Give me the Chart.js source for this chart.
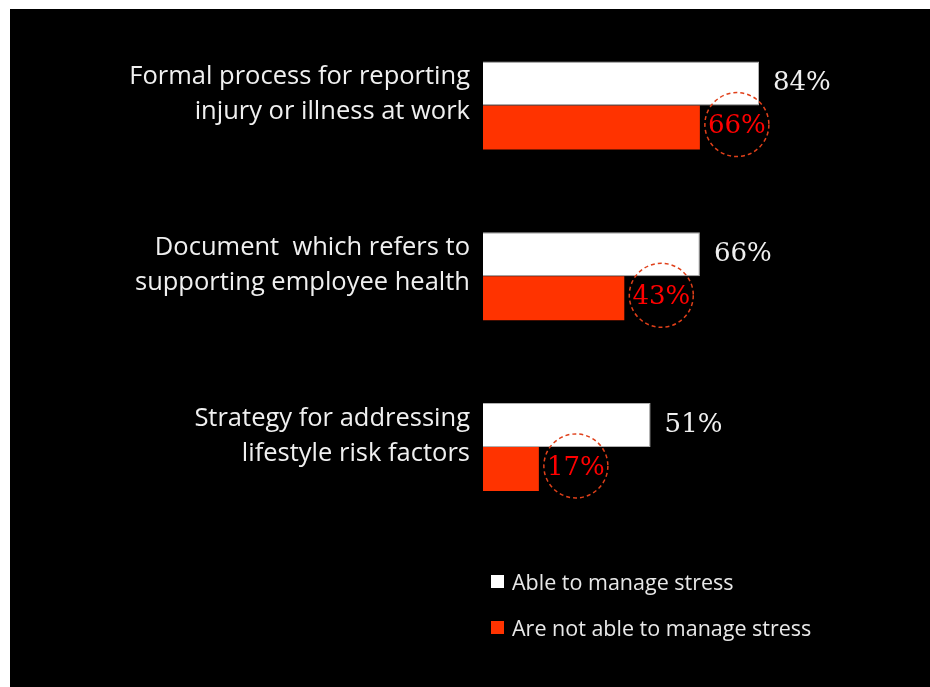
<!DOCTYPE html>
<html lang="en">
<head>
    <meta charset="UTF-8">
    <title>Managing stress</title>
    <script src="https://cdn.jsdelivr.net/npm/chart.js"></script>
    <style>
        body {
            margin: 0;
            background: #fff;
            font-family: "Open Sans", sans-serif;
        }
        #panel {
            position: absolute;
            left: 10px;
            top: 9px;
            width: 920px;
            height: 678px;
            background: #000;
        }
        #chartBox {
            position: absolute;
            left: 0;
            top: 0;
            width: 920px;
            height: 678px;
        }
        #legend {
            position: absolute;
            left: 481px;
            top: 549px;
        }
        .item {
            display: flex;
            align-items: center;
            height: 46px;
            color: #e8e8e8;
            font-size: 21.5px;
            white-space: nowrap;
        }
        .swatch {
            width: 13px;
            height: 13px;
            margin-right: 8px;
        }
    </style>
</head>
<body>
    <div id="panel">
        <div id="chartBox"><canvas id="stressChart"></canvas></div>
        <div id="legend"></div>
    </div>

    <script>
        // Daten
        const categories = [
            ['Formal process for reporting', 'injury or illness at work'],
            ['Document  which refers to', 'supporting employee health'],
            ['Strategy for addressing', 'lifestyle risk factors']
        ];
        const seriesNames = ['Able to manage stress', 'Are not able to manage stress'];
        const ableValues = [84, 66, 51];
        const notAbleValues = [66, 43, 17];
        const seriesColors = ['#ffffff', '#ff3300'];

        // Prozentwerte neben die Balken schreiben, rote Werte im gestrichelten Kreis
        const valueLabels = {
            id: 'valueLabels',
            afterDatasetsDraw(chart) {
                const ctx = chart.ctx;
                ctx.save();
                ctx.font = '26px "DejaVu Serif", serif';
                ctx.textBaseline = 'middle';

                chart.getDatasetMeta(0).data.forEach((bar, i) => {
                    ctx.fillStyle = '#f0f0f0';
                    ctx.textAlign = 'left';
                    ctx.fillText(ableValues[i] + '%', bar.x + 14, bar.y);
                });

                chart.getDatasetMeta(1).data.forEach((bar, i) => {
                    const cx = bar.x + 37;
                    const cy = bar.y - 3;
                    ctx.beginPath();
                    ctx.setLineDash([4, 3]);
                    ctx.lineWidth = 1.5;
                    ctx.strokeStyle = '#e0401a';
                    ctx.arc(cx, cy, 32, 0, Math.PI * 2);
                    ctx.stroke();
                    ctx.setLineDash([]);
                    ctx.fillStyle = '#ff0000';
                    ctx.textAlign = 'center';
                    ctx.fillText(notAbleValues[i] + '%', cx, bar.y - 1);
                });
                ctx.restore();
            }
        };

        function buildLegend() {
            const box = document.getElementById('legend');
            seriesNames.forEach((name, i) => {
                const item = document.createElement('div');
                item.className = 'item';
                item.innerHTML = '<span class="swatch" style="background:' + seriesColors[i] + '"></span>' + name;
                box.appendChild(item);
            });
        }

        function createChart() {
            const ctx = document.getElementById('stressChart').getContext('2d');
            new Chart(ctx, {
                type: 'bar',
                data: {
                    labels: categories,
                    datasets: [
                        {
                            label: seriesNames[0],
                            data: ableValues,
                            backgroundColor: seriesColors[0],
                            borderColor: '#b0b0b0',
                            borderWidth: 1
                        },
                        {
                            label: seriesNames[1],
                            data: notAbleValues,
                            backgroundColor: seriesColors[1],
                            borderWidth: 0
                        }
                    ]
                },
                options: {
                    indexAxis: 'y',
                    responsive: true,
                    maintainAspectRatio: false,
                    animation: false,
                    datasets: {
                        bar: {
                            categoryPercentage: 0.516,
                            barPercentage: 1
                        }
                    },
                    layout: {
                        padding: { left: 0, right: 118.4, top: 11.25, bottom: 154.75 }
                    },
                    plugins: {
                        legend: { display: false },
                        tooltip: { enabled: false }
                    },
                    scales: {
                        x: {
                            display: false,
                            min: 0,
                            max: 100
                        },
                        y: {
                            grid: { display: false, drawTicks: false },
                            border: { display: false },
                            ticks: {
                                color: '#f0f0f0',
                                padding: 13,
                                labelOffset: -11,
                                font: { family: '"Open Sans", sans-serif', size: 25.5, lineHeight: 1.37 }
                            },
                            afterFit(axis) {
                                axis.width = 473;
                                axis.paddingTop = 0;
                                axis.paddingBottom = 0;
                            }
                        }
                    }
                },
                plugins: [valueLabels]
            });
        }

        buildLegend();
        createChart();
    </script>
</body>
</html>
